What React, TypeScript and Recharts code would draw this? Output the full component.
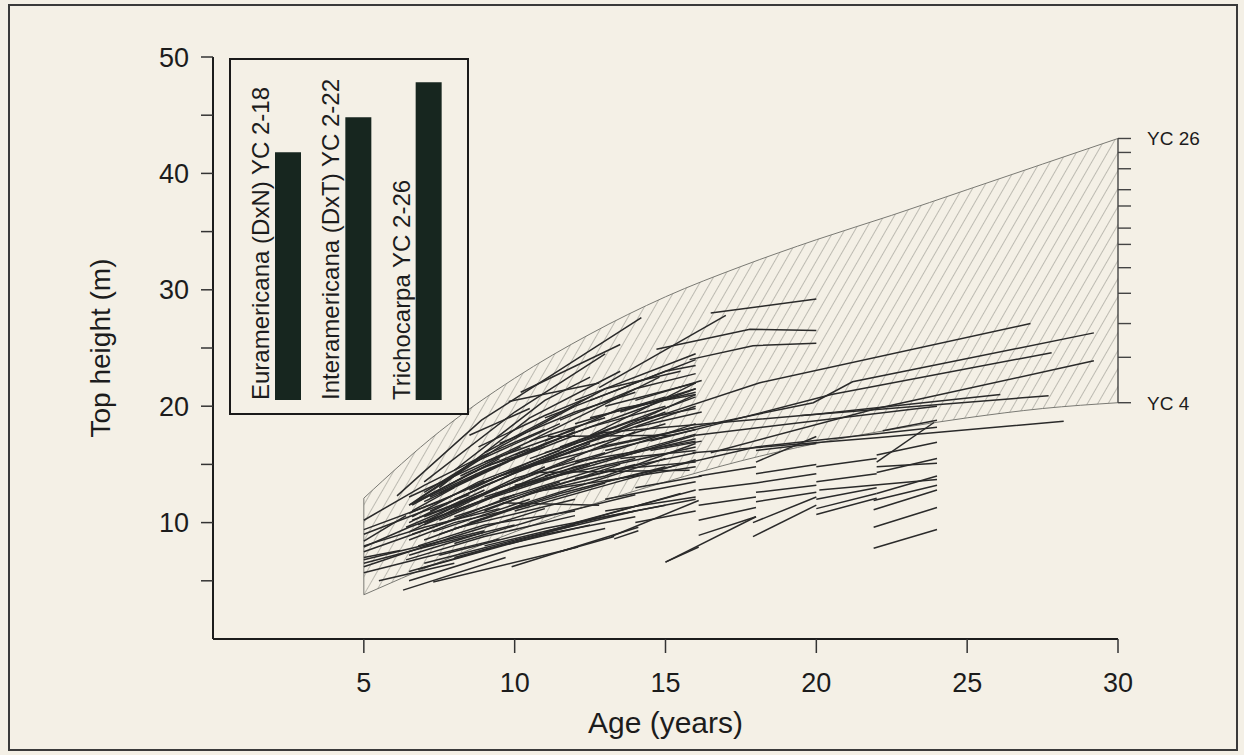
import React from 'react';
import {
  ComposedChart, Line, Area, XAxis, YAxis, ReferenceLine, ReferenceDot, Label,
  BarChart, Bar, LabelList,
} from 'recharts';

const FONT = '"Liberation Sans", Arial, Helvetica, sans-serif';
const PAPER = '#f4f0e6';
const INK = '#1c1c1c';

// Axis ticks
const AGE_TICKS = [5, 10, 15, 20, 25, 30];
const HEIGHT_TICKS = [5, 10, 15, 20, 25, 30, 35, 40, 45, 50];

// Yield class envelope (YC 4 lower bound, YC 26 upper bound)
const ENV_AGES = [5, 7.5, 10, 12.5, 15, 17.5, 20, 22.5, 25, 27.5, 30];
const YC4_HEIGHT = [3.8, 6.6, 9.2, 11.5, 13.5, 15.3, 16.8, 18.0, 19.0, 19.8, 20.3];
const YC26_HEIGHT = [12.1, 17.8, 22.4, 26.2, 29.4, 32.0, 34.3, 36.4, 38.6, 40.8, 43.0];

// Top heights of yield classes 4..26 at age 30 (ladder on the right)
const YC_CLASSES = [4, 6, 8, 10, 12, 14, 16, 18, 20, 22, 24, 26];
const YC_AT_30 = [20.3, 24.2, 27.1, 29.7, 31.9, 33.9, 35.3, 37.2, 38.6, 40.4, 41.8, 43.0];

// Inset: yield class range per hybrid group
const GROUP_LABELS = ['Euramericana (DxN) YC 2-18', 'Interamericana (DxT) YC 2-22', 'Trichocarpa YC 2-26'];
const GROUP_MAX_YC = [18, 22, 26];
const INSET_FLOOR = -10.3;
const INSET_TOP = 27.4;

// Plot remeasurements, [age, top height] per point
const FROM_AGE_FIVE = [
  [[5, 10.2], [7, 13.2], [9, 15.8]],
  [[5, 7.9], [6.5, 9.6], [8.5, 11.5]],
  [[5, 7.5], [7.5, 9.8], [10, 12.4]],
  [[5, 6.2], [8, 8.8], [11, 11.2]],
  [[5, 5.7], [7, 7.0], [9.5, 8.6]],
  [[5, 9.4], [7.5, 11.8], [9, 13.6]],
  [[5, 8.4], [6.4, 10.6]],
  [[5, 6.8], [9, 9.3]],
  [[5, 7.0], [6.2, 7.6]],
  [[5.5, 5.0], [8, 6.5]],
  [[5, 8.0], [7, 9.6], [9.5, 11.2]],
  [[5, 6.5], [7.5, 8.2], [10, 9.8]],
  [[5, 9.0], [6.8, 10.8], [8.5, 12.4]],
];

const UPPER_FAN = [
  [[6.1, 12.3], [8.9, 18.8], [14.2, 27.6]],
  [[7.0, 13.5], [10.0, 19.5], [13.0, 24.5]],
  [[7.5, 13.0], [10.5, 19.0], [13.5, 23.0]],
  [[8.0, 14.5], [11.0, 20.5], [12.5, 22.5]],
  [[10.2, 21.2], [13.5, 25.3]],
  [[9.8, 20.4], [12.8, 22.0]],
  [[12.8, 21.6], [17.0, 27.8]],
  [[16.5, 28.0], [20.0, 29.2]],
  [[14.7, 24.9], [17.8, 26.6], [20.0, 26.5]],
  [[15.8, 24.0], [17.9, 25.2], [20.0, 25.4]],
  [[12.0, 20.5], [16.0, 24.5]],
  [[11.0, 19.0], [15.0, 23.0], [16.0, 23.5]],
  [[10.5, 17.0], [14.8, 22.5]],
  [[9.0, 16.0], [13.0, 21.5], [15.5, 23.0]],
  [[8.5, 17.5], [10.5, 19.8]],
  [[6.8, 12.0], [9.5, 16.5], [12.0, 20.0]],
  [[6.5, 11.5], [8.5, 15.0], [11.5, 18.5]],
  [[13.0, 20.0], [16.0, 22.0]],
  [[8.8, 16.5], [11, 19.2], [12.5, 20.8]],
  [[12, 18.5], [15, 20.8]],
  [[9.5, 16.8], [12.0, 19.5], [14.0, 21.2]],
  [[11.5, 18.8], [14.0, 21.5], [16.0, 22.8]],
  [[12.5, 20.5], [15, 23.0], [16.0, 24.0]],
];

const DENSE_CLUSTER = [
  [[6.5, 12.2], [10.6, 17.1], [13, 19]],
  [[6.5, 11.5], [9, 14.5], [12, 17.5]],
  [[6.5, 10.8], [9.5, 14.0], [13.0, 17.0]],
  [[6.6, 10.2], [10, 13.5], [14, 17.8]],
  [[6.4, 9.6], [9, 12.5], [12, 15.5]],
  [[6.6, 9.0], [10, 12.0], [13.5, 15.0]],
  [[7, 8.5], [10.5, 11.8], [15, 15.5]],
  [[7, 9.8], [11, 14.2], [16, 18.5]],
  [[7.2, 11.0], [11, 15.5], [15, 19.5]],
  [[7.5, 12.5], [11, 16.8], [16, 21.5]],
  [[8, 12], [12, 16.5], [16, 20]],
  [[8.5, 11.5], [12, 14.5], [16, 17.5]],
  [[9, 13.5], [13, 17.5], [16, 21]],
  [[9.5, 12.0], [13, 14.8], [16, 16.5]],
  [[10, 14.5], [13, 16.5], [16, 18.2]],
  [[10, 13.2], [14, 15.5]],
  [[10.5, 15.5], [14, 18.8], [16, 19.8]],
  [[11, 14.0], [16, 17.6]],
  [[11, 12.8], [16, 14.8]],
  [[11.5, 16.5], [16, 20.8]],
  [[12, 15.2], [16, 17.0]],
  [[12, 13.8], [16, 16.0]],
  [[12.5, 17.5], [16, 22.0]],
  [[13, 16.2], [16, 18.0]],
  [[13, 14.5], [16, 15.2]],
  [[11.1, 17.4], [15.2, 17.5]],
  [[10.7, 14.3], [15.8, 14.5]],
  [[9.6, 11.7], [12.8, 11.5]],
  [[7.0, 10.5], [9.5, 13.0]],
  [[7.0, 11.8], [10.0, 15.5]],
  [[7.3, 9.2], [10.5, 12.0]],
  [[8, 10.5], [11.5, 13.5]],
  [[8, 9.5], [12, 12.0]],
  [[6.8, 9.8], [8.5, 12.0]],
  [[6.6, 11.0], [8.0, 13.0]],
  [[7.5, 11.0], [9.0, 12.8]],
  [[13.5, 19.5], [16, 21.5]],
  [[14, 18.2], [16.2, 19.5]],
  [[14, 20.5], [16.2, 22.2]],
  [[12.5, 19.0], [16, 21.2]],
  [[11, 16.0], [13.5, 18.0]],
  [[9, 15.2], [12, 18.0]],
  [[8.2, 14.0], [10.2, 16.5]],
  [[6.5, 9.2], [8.5, 11.8], [11, 14.8]],
  [[6.6, 10.5], [8.8, 13.5], [11.5, 16.2]],
  [[6.7, 11.8], [9, 14.8], [11, 16.5]],
  [[7, 10.0], [9.5, 12.5], [12.5, 15.0]],
  [[7.2, 12.2], [9.5, 15.0], [12, 17.8]],
  [[7.5, 10.2], [10, 13.0], [12, 14.5]],
  [[8, 11.3], [10, 13.8], [13, 16.0]],
  [[8.5, 12.8], [10.5, 15.2], [13, 17.8]],
  [[9, 11.0], [11, 13.0], [14, 15.0]],
  [[9.5, 14.0], [12, 16.2], [15, 18.5]],
  [[10, 15.8], [12.5, 18.2], [15, 20.0]],
  [[10.5, 12.5], [13, 14.0], [16, 16.8]],
  [[11, 17.0], [13.5, 19.8], [16, 21.0]],
  [[7.8, 13.2], [9.5, 15.5]],
  [[14.5, 16.2], [16.2, 17.0]],
  [[13.5, 15.5], [16, 16.2]],
  [[6.5, 10.0], [9.0, 13.2], [12.5, 16.8]],
  [[6.6, 11.5], [8.5, 14.2], [10.5, 16.4]],
  [[7.0, 12.6], [9.0, 15.8], [11.0, 18.0]],
  [[7.5, 9.0], [10.0, 11.2], [13.0, 13.4]],
  [[8.0, 8.2], [11.0, 10.5], [14.0, 12.4]],
  [[8.5, 10.0], [11.5, 12.5], [15.0, 14.8]],
  [[9.0, 12.2], [12.0, 14.8], [16.0, 17.2]],
  [[10.0, 11.0], [13.0, 13.2], [16.0, 15.4]],
];

const LOWER_LINES = [
  [[6.3, 4.2], [9.7, 7.0]],
  [[7.3, 4.9], [12.1, 7.9]],
  [[9.9, 6.2], [14.1, 9.6]],
  [[13.3, 8.6], [14.1, 9.3]],
  [[15, 6.6], [16.1, 7.9]],
  [[6.5, 5.0], [10, 7.8], [13, 9.5]],
  [[6.8, 6.0], [11, 9.0], [14, 10.5]],
  [[7, 6.5], [10, 8.5]],
  [[7.5, 7.2], [11, 9.5], [15, 11.5]],
  [[8, 7.0], [12, 9.8]],
  [[9, 8.0], [13, 10.5], [16, 12.0]],
  [[10, 8.5], [14, 11.0]],
  [[11, 9.2], [15.5, 12.5]],
  [[12, 10.0], [16, 12.8]],
  [[13, 11.0], [16, 12.2]],
  [[6.5, 7.2], [9, 9.2]],
  [[11.5, 7.5], [13.3, 8.8]],
  [[13.2, 8.8], [16.1, 11.9]],
  [[14, 10.0], [16, 11.0]],
  [[6.5, 8.5], [8, 10.0], [10.5, 11.5]],
  [[6.8, 8.0], [9, 9.8], [12, 11.0]],
  [[6.4, 6.8], [9, 8.8], [12, 10.6]],
  [[6.5, 5.8], [9.5, 8.0], [12.5, 9.8]],
  [[14.0, 13.0], [16.2, 14.0]],
  [[13.0, 12.0], [16.0, 13.5]],
];

const LATE_LONG = [
  [[12.8, 16.5], [19.9, 20.3], [21.2, 22.1], [29.2, 26.3]],
  [[14.5, 17.0], [20.5, 21.0], [27.8, 24.6]],
  [[16.5, 16.0], [22, 19.8], [29.2, 23.9]],
  [[19.5, 19.2], [27.7, 20.9]],
  [[15.9, 16.0], [22, 17.3], [28.2, 18.7]],
  [[12.8, 17.7], [20, 19.3], [26.1, 21.0]],
  [[14, 18.5], [18.1, 22.0], [27.1, 27.1]],
  [[13, 13.5], [18, 16.5], [24, 18.2]],
  [[16, 17.5], [24, 20.0]],
];

const LATE_SHORT = [
  [[18, 15.2], [20, 17.4]],
  [[15, 6.6], [18, 10.5]],
  [[16.1, 8.9], [18, 10.5]],
  [[17.9, 8.8], [20, 11.5]],
  [[16.1, 10.2], [18, 11.3]],
  [[21.9, 9.6], [24, 11.3]],
  [[21.9, 7.8], [24, 9.4]],
  [[20, 10.7], [22, 12.1]],
  [[21.9, 11.1], [24, 12.8]],
  [[21.9, 11.9], [24, 13.2]],
  [[20.1, 12.8], [24, 13.7]],
  [[18, 13.4], [20, 14.2]],
  [[22, 14.3], [24, 15.5]],
  [[22, 14.8], [24, 15.1]],
  [[22, 15.8], [24, 16.9]],
  [[22, 15.2], [23.9, 18.6]],
  [[22.2, 17.9], [24, 18.8]],
  [[16.1, 12.8], [18, 13.4]],
  [[18, 11.8], [20, 12.6]],
  [[18, 12.6], [20, 13.2]],
  [[20, 12.0], [22, 13.0]],
  [[16.1, 11.5], [18, 12.2]],
  [[20, 11.2], [22, 12.5]],
  [[18, 14.2], [20, 15.0]],
  [[20, 14.8], [22, 15.5]],
  [[16.1, 14.0], [18, 14.8]],
  [[17.9, 10.0], [20, 12.2]],
  [[20, 13.5], [22, 14.2]],
  [[22, 12.5], [24, 14.0]],
  [[18, 16.2], [20, 16.8]],
];

const GROWTH_LINES = [
  ...FROM_AGE_FIVE, ...UPPER_FAN, ...DENSE_CLUSTER, ...LOWER_LINES, ...LATE_LONG, ...LATE_SHORT,
];

const envelopeData = ENV_AGES.map((age, i) => ({ age, band: [YC4_HEIGHT[i], YC26_HEIGHT[i]] }));
const insetData = GROUP_LABELS.map((label, i) => ({ label, range: [INSET_FLOOR, GROUP_MAX_YC[i]] }));

const renderGroupLabel = (props: any) => {
  const { x, y, height, value } = props;
  const bx = Number(x) - 6;
  const by = Number(y) + Number(height);
  return (
    <text
      x={bx}
      y={by}
      transform={`rotate(-90, ${bx}, ${by})`}
      textAnchor="start"
      fontSize={24}
      fontFamily={FONT}
      fill={INK}
    >
      {value}
    </text>
  );
};

const YcTick = (label: string | null) => (props: any) => {
  const { cx, cy } = props;
  return (
    <g>
      <line x1={cx} x2={cx + 13} y1={cy} y2={cy} stroke="#444" strokeWidth={1.4} />
      {label && (
        <text x={cx + 29} y={cy + 7} fontSize={19} fontFamily={FONT} fill={INK}>
          {label}
        </text>
      )}
    </g>
  );
};

const App: React.FC = () => {
  const last = YC_AT_30.length - 1;
  return (
    <div style={{ position: 'fixed', left: 0, top: 0, width: 1244, height: 755, background: PAPER, fontFamily: FONT }}>
      <div
        style={{
          position: 'absolute', left: 8, top: 4, width: 1230, height: 747,
          border: '2px solid #3a3a3a', boxSizing: 'border-box',
        }}
      />
      <div style={{ position: 'absolute', left: 0, top: 0 }}>
        <ComposedChart width={1244} height={755} margin={{ top: 57, right: 126, bottom: 10, left: 30 }}>
          <defs>
            <pattern id="ycHatch" width="9" height="9" patternUnits="userSpaceOnUse" patternTransform="rotate(30)">
              <line x1="0" y1="0" x2="0" y2="9" stroke="#85857d" strokeWidth="1" />
            </pattern>
          </defs>
          <XAxis
            type="number"
            dataKey="age"
            domain={[0, 30]}
            ticks={AGE_TICKS}
            height={106}
            tickSize={14}
            tickMargin={20}
            axisLine={{ stroke: INK, strokeWidth: 2 }}
            tickLine={{ stroke: '#333', strokeWidth: 1.5 }}
            tick={{ fontSize: 27, fill: INK, fontFamily: FONT }}
          >
            <Label value="Age (years)" position="insideBottom" offset={12}
              style={{ fontSize: 30, fill: INK, fontFamily: FONT }} />
          </XAxis>
          <YAxis
            type="number"
            domain={[0, 50]}
            ticks={HEIGHT_TICKS}
            width={183}
            tickSize={12}
            tickMargin={12}
            tickFormatter={(v: number) => (v % 10 === 0 ? String(v) : '')}
            axisLine={{ stroke: INK, strokeWidth: 2 }}
            tickLine={{ stroke: '#333', strokeWidth: 1.5 }}
            tick={{ fontSize: 27, fill: INK, fontFamily: FONT }}
          >
            <Label value="Top height (m)" angle={-90} position="insideLeft" offset={70}
              style={{ fontSize: 28, fill: INK, fontFamily: FONT, textAnchor: 'middle' }} />
          </YAxis>

          <Area
            data={envelopeData}
            dataKey="band"
            type="monotone"
            stroke="#7a7a74"
            strokeWidth={1}
            fill="url(#ycHatch)"
            fillOpacity={1}
            isAnimationActive={false}
            legendType="none"
          />
          <ReferenceLine
            segment={[{ x: ENV_AGES[0], y: YC4_HEIGHT[0] }, { x: ENV_AGES[0], y: YC26_HEIGHT[0] }]}
            stroke="#7a7a74"
            strokeWidth={1}
          />
          <ReferenceLine
            segment={[{ x: 30, y: YC_AT_30[0] }, { x: 30, y: YC_AT_30[last] }]}
            stroke="#444"
            strokeWidth={1.4}
          />

          {GROWTH_LINES.map((seg, i) => (
            <Line
              key={i}
              data={seg.map(([age, h]) => ({ age, h }))}
              dataKey="h"
              type="linear"
              stroke="#2a2a2a"
              strokeWidth={1.5}
              dot={false}
              activeDot={false}
              isAnimationActive={false}
              legendType="none"
            />
          ))}

          {YC_AT_30.map((h, i) => (
            <ReferenceDot
              key={`yc${YC_CLASSES[i]}`}
              x={30}
              y={h}
              r={1}
              shape={YcTick(i === 0 || i === last ? `YC ${YC_CLASSES[i]}` : null)}
            />
          ))}
        </ComposedChart>
      </div>

      <div
        style={{
          position: 'absolute', left: 229, top: 58, width: 240, height: 357,
          border: '2px solid #1a1a1a', boxSizing: 'border-box', background: PAPER,
        }}
      >
        <BarChart width={236} height={353} data={insetData} margin={{ top: 10, right: 3, bottom: 13, left: 22 }}>
          <XAxis dataKey="label" hide />
          <YAxis type="number" domain={[INSET_FLOOR, INSET_TOP]} hide allowDataOverflow />
          <Bar dataKey="range" barSize={26} fill="#17261f" isAnimationActive={false}>
            <LabelList dataKey="label" content={renderGroupLabel} />
          </Bar>
        </BarChart>
      </div>
    </div>
  );
};

export default App;
